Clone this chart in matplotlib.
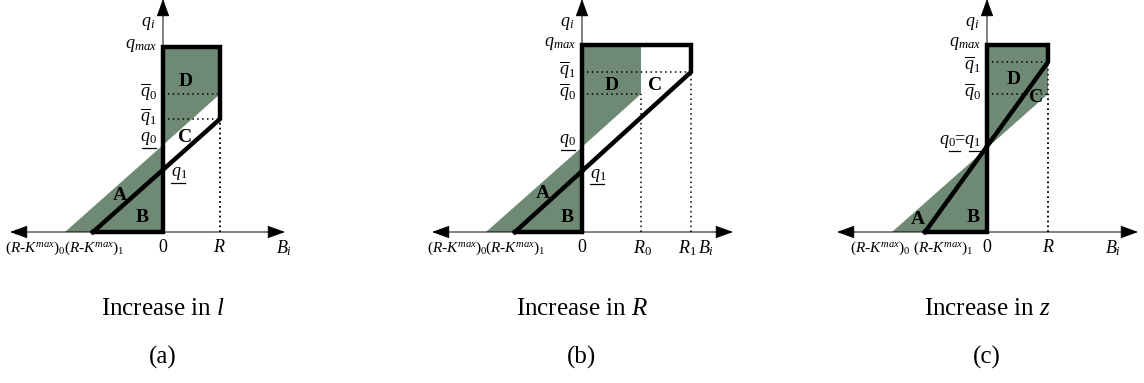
import matplotlib
matplotlib.use("Agg")
import matplotlib.pyplot as plt

plt.rcParams['font.family'] = ['Liberation Serif', 'DejaVu Serif']
plt.rcParams['mathtext.fontset'] = 'custom'
plt.rcParams['mathtext.rm'] = 'Liberation Serif'
plt.rcParams['mathtext.it'] = 'Liberation Serif:italic'
plt.rcParams['mathtext.bf'] = 'Liberation Serif:bold'

# diagram values (units ~ pixels, origin at the axis crossing)
panel_ids = ['a', 'b', 'c']
captions = ['Increase in $l$', 'Increase in $R$', 'Increase in $z$']
k_max0 = [-98, -96, -95]     # (R-K^max)_0
k_max1 = [-70, -67, -62]     # (R-K^max)_1
r_0 = [57, 59, 61]           # end of thin line
r_1 = [57, 109, 61]          # end of thick line
q_max = [185, 187, 187]
q_bar0 = [138, 138, 138]
q_bar1 = [113, 160, 170]
x_left = [-153, -150, -150]
x_right = [122, 151, 151]

# where each panel sits on the figure (pixels)
px_left = [0, 380, 820]
px_right = [380, 820, 1144]
px_origin = [163, 582, 987]

# label spots
k_labels = [
    [(-128, r'$(R$-$K^{max})_0$'), (-69, r'$(R$-$K^{max})_1$')],
    [(-125, r'$(R$-$K^{max})_0$'), (-67, r'$(R$-$K^{max})_1$')],
    [(-107, r'$(R$-$K^{max})_0$'), (-44, r'$(R$-$K^{max})_1$')],
]
x_labels = [
    [(0, '0'), (56, '$R$'), (121, '$B_i$')],
    [(0, '0'), (60, '$R_0$'), (105, '$R_1$'), (124, '$B_i$')],
    [(0, '0'), (61, '$R$'), (126, '$B_i$')],
]
region_labels = [
    [('A', -43, 37), ('B', -21, 15), ('C', 22, 95), ('D', 23, 150)],
    [('A', -39, 39), ('B', -15, 14), ('C', 73, 147), ('D', 30, 147)],
    [('A', -69, 12), ('B', -14, 14), ('C', 49, 135), ('D', 27, 152)],
]

green = '#6f8a74'

fig = plt.figure(figsize=(11.44, 3.83), dpi=100)
H = 383

for i in range(3):
    w = px_right[i] - px_left[i]
    ax = fig.add_axes([px_left[i] / 1144, (H - 270) / H, w / 1144, 270 / H])
    ax.set_xlim(px_left[i] - px_origin[i], px_right[i] - px_origin[i])
    ax.set_ylim(-38, 232)
    ax.axis('off')

    k0, k1, a0, a1 = k_max0[i], k_max1[i], r_0[i], r_1[i]
    qm, qb0, qb1 = q_max[i], q_bar0[i], q_bar1[i]
    ql0 = qb0 * (-k0) / (a0 - k0)
    ql1 = qb1 * (-k1) / (a1 - k1)

    # shaded areas
    ax.fill([k0, 0, 0], [0, 0, ql0], color=green, lw=0)
    ax.fill([0, 0, a0, a0], [ql0, qm, qm, qb0], color=green, lw=0)

    # dotted guides
    dots = dict(color='black', lw=1.1, ls=(0, (1, 2.2)))
    ax.plot([0, a0], [qb0, qb0], **dots)
    ax.plot([0, a1], [qb1, qb1], **dots)
    ax.plot([a0, a0], [0, qb0], **dots)
    ax.plot([a1, a1], [0, qb1], **dots)

    # axes with arrows
    ax.annotate('', xy=(x_right[i], 0), xytext=(x_left[i], 0),
                arrowprops=dict(arrowstyle='<|-|>,head_length=0.55,head_width=0.2',
                                mutation_scale=20, color='black', lw=0.7,
                                shrinkA=0, shrinkB=0), annotation_clip=False)
    ax.annotate('', xy=(0, 233), xytext=(0, 0),
                arrowprops=dict(arrowstyle='-|>,head_length=0.55,head_width=0.2',
                                mutation_scale=20, color='black', lw=0.7,
                                shrinkA=0, shrinkB=0), annotation_clip=False)

    # thick outline
    ax.plot([k1, 0, 0, a1, a1, k1], [0, 0, qm, qm, qb1, 0],
            color='black', lw=3.2, solid_joinstyle='miter', clip_on=False)

    # y labels
    fs = 13
    bar1_shift = -3 if i == 2 else 2
    ax.text(-15, 209, '$q_i$', fontsize=fs, ha='center', va='center')
    ax.text(-6, qm + 2, '$q_{max}$', fontsize=fs, ha='right', va='center')
    ax.text(-6, qb0 + 2, r'$\overline{q}_{\mathit{0}}$', fontsize=fs, ha='right', va='center')
    ax.text(-6, qb1 + bar1_shift, r'$\overline{q}_{\mathit{1}}$', fontsize=fs, ha='right', va='center')
    if i < 2:
        ax.text(-6, ql0 + 6, r'$q_{\mathit{0}}$', fontsize=fs, ha='right', va='center')
        ax.plot([-21, -7], [ql0 - 3, ql0 - 3], color='black', lw=0.9)
        ax.text(8, ql1 - 4, r'$q_{\mathit{1}}$', fontsize=fs, ha='left', va='center')
        ax.plot([8, 22], [ql1 - 13, ql1 - 13], color='black', lw=0.9)
    else:
        ax.text(-6, ql0 + 6, r'$q_{\mathit{0}}$=$q_{\mathit{1}}$', fontsize=fs, ha='right', va='center')
        ax.plot([-38, -27], [ql0 - 3, ql0 - 3], color='black', lw=0.9)
        ax.plot([-18, -7], [ql0 - 3, ql0 - 3], color='black', lw=0.9)

    # x labels
    for xv, s in k_labels[i]:
        ax.text(xv, -16, s, fontsize=11, ha='center', va='center')
    for xv, s in x_labels[i]:
        ax.text(xv, -16, s, fontsize=13, ha='center', va='center')
    for s, xv, yv in region_labels[i]:
        ax.text(xv, yv, s, fontsize=14, fontweight='bold', ha='center', va='center')

    fig.text(px_origin[i] / 1144, 1 - 309 / H, captions[i], fontsize=18, ha='center', va='center')
    fig.text(px_origin[i] / 1144, 1 - 357 / H, '(' + panel_ids[i] + ')', fontsize=18, ha='center', va='center')

fig.savefig('out.png', dpi=100)
